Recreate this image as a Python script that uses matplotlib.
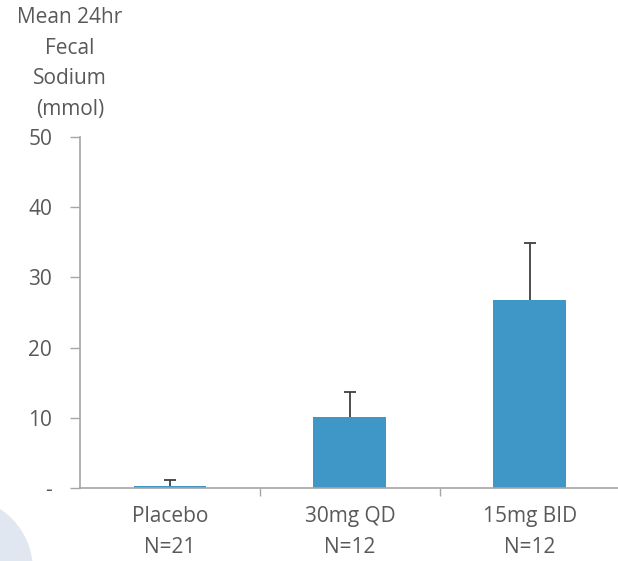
import matplotlib
matplotlib.use("Agg")
import matplotlib.pyplot as plt
from matplotlib.patches import Ellipse

categories = ["Placebo\nN=21", "30mg QD\nN=12", "15mg BID\nN=12"]
means = [0.3, 10.1, 26.8]
upper_err = [0.8, 3.6, 8.1]
yticks = [0, 10, 20, 30, 40, 50]
ytick_labels = ["-", "10", "20", "30", "40", "50"]

plt.rcParams['font.family'] = ['Open Sans', 'DejaVu Sans']
text_color = "#595959"
axis_color = "#a6a6a6"
fs = 15

W, H = 618, 561
fig = plt.figure(figsize=(W / 100, H / 100), dpi=100)
fig.patch.set_facecolor("white")

# faint decoration bottom-left
fig.patches.append(Ellipse((-40 / W, 1 - 570 / H), 2 * 73 / W, 2 * 73 / H,
                           transform=fig.transFigure,
                           facecolor="#e1e7f1", edgecolor="none", zorder=0))

ax = fig.add_axes([0.1294, 0.1301, 0.8706, 0.6257])
ax.set_facecolor("none")
x = list(range(len(categories)))
ax.bar(x, means, width=0.405, color="#3f97c8", zorder=2)
eb = ax.errorbar(x, means, yerr=[[0] * len(means), upper_err], fmt="none",
                 ecolor="#404040", elinewidth=1.3, capsize=4.3, capthick=1.3, zorder=3)
# show only the upper cap
eb[1][0].set_visible(False)

ax.set_ylim(0, 50)
ax.set_xlim(-0.5, 2.49)
ax.set_yticks(yticks)
ax.set_yticklabels(ytick_labels)
ax.set_xticks([0.5, 1.5])
ax.set_xticklabels([])
ax.tick_params(axis="x", which="major", direction="out", length=6, color=axis_color, width=1)
ax.set_xticks(x, minor=True)
ax.set_xticklabels(categories, minor=True)
ax.tick_params(axis="x", which="minor", length=0, pad=13, labelsize=fs, labelcolor=text_color)
ax.tick_params(axis="y", direction="out", length=7, color=axis_color, width=1,
               labelsize=fs, labelcolor=text_color, pad=13)
for lbl in ax.get_xticklabels(minor=True):
    lbl.set_linespacing(1.65)

for s in ["top", "right"]:
    ax.spines[s].set_visible(False)
for s in ["left", "bottom"]:
    ax.spines[s].set_color(axis_color)
    ax.spines[s].set_linewidth(1.2)

fig.text(0.113, 0.9875, "Mean 24hr\nFecal\nSodium\n(mmol)", ha="center", va="top",
         fontsize=fs, color=text_color, linespacing=1.6)

fig.savefig("out.png", dpi=100, facecolor="white")
